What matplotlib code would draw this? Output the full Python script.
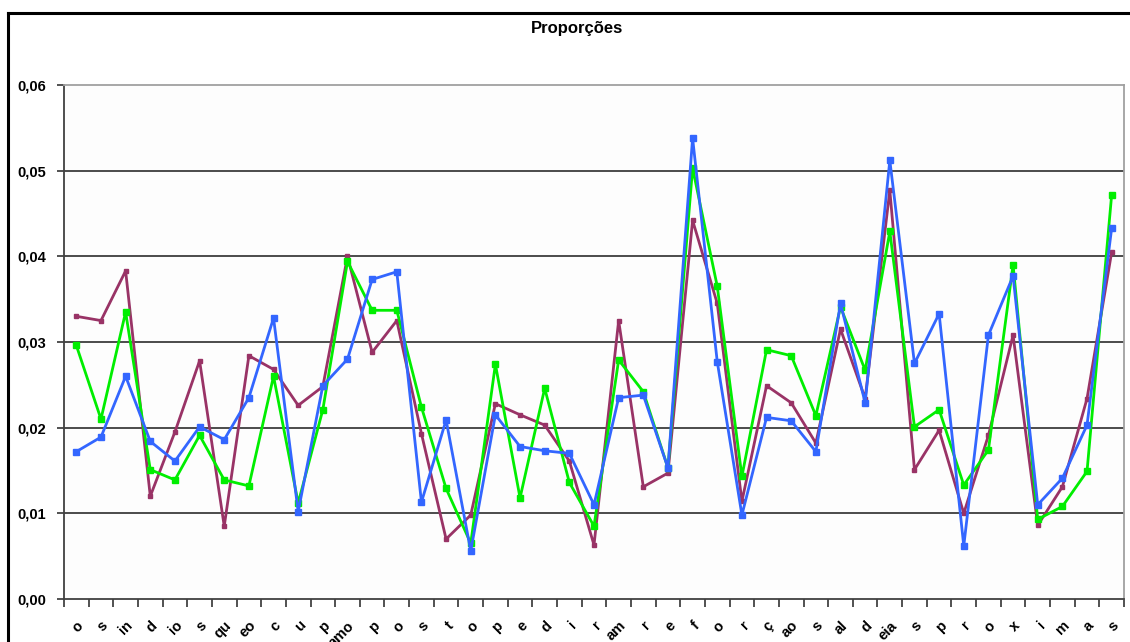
import matplotlib
matplotlib.use("Agg")
import matplotlib.pyplot as plt
from matplotlib.lines import Line2D
import numpy as np

plt.rcParams['font.family'] = ['Liberation Sans', 'DejaVu Sans']

labels = ["o", "s", "in", "d", "io", "s", "qu", "eo", "c", "u", "p", "amo", "p", "o", "s",
          "t", "o", "p", "e", "d", "i", "r", "am", "r", "e", "f", "o", "r", "ç", "ao",
          "s", "al", "d", "eia", "s", "p", "r", "o", "x", "i", "m", "a", "s"]

serie_roxa = [0.0330, 0.0325, 0.0383, 0.0120, 0.0195, 0.0278, 0.0085, 0.0284, 0.0268, 0.0226,
              0.0248, 0.0400, 0.0288, 0.0325, 0.0193, 0.0070, 0.0098, 0.0228, 0.0215, 0.0203,
              0.0161, 0.0063, 0.0325, 0.0131, 0.0147, 0.0442, 0.0345, 0.0114, 0.0249, 0.0229,
              0.0182, 0.0315, 0.0234, 0.0477, 0.0151, 0.0197, 0.0100, 0.0191, 0.0308, 0.0086,
              0.0131, 0.0234, 0.0405]

serie_verde = [0.0296, 0.0210, 0.0335, 0.0151, 0.0139, 0.0191, 0.0139, 0.0132, 0.0260, 0.0112,
               0.0221, 0.0394, 0.0337, 0.0337, 0.0224, 0.0129, 0.0065, 0.0274, 0.0118, 0.0246,
               0.0136, 0.0085, 0.0279, 0.0242, 0.0153, 0.0503, 0.0365, 0.0143, 0.0291, 0.0284,
               0.0214, 0.0341, 0.0267, 0.0429, 0.0201, 0.0221, 0.0133, 0.0174, 0.0390, 0.0093,
               0.0108, 0.0149, 0.0472]

serie_azul = [0.0172, 0.0189, 0.0260, 0.0184, 0.0161, 0.0201, 0.0186, 0.0235, 0.0328, 0.0102,
              0.0249, 0.0280, 0.0373, 0.0382, 0.0113, 0.0209, 0.0056, 0.0215, 0.0178, 0.0173,
              0.0170, 0.0110, 0.0235, 0.0238, 0.0153, 0.0538, 0.0277, 0.0098, 0.0212, 0.0208,
              0.0172, 0.0345, 0.0229, 0.0512, 0.0275, 0.0333, 0.0062, 0.0308, 0.0377, 0.0110,
              0.0141, 0.0203, 0.0433]

yticks = [0.00, 0.01, 0.02, 0.03, 0.04, 0.05, 0.06]
ytick_labels = ["0,00", "0,01", "0,02", "0,03", "0,04", "0,05", "0,06"]

fig = plt.figure(figsize=(11.3, 6.42), dpi=100)
fig.patch.set_facecolor('white')

# outer chart frame (top and left visible)
fig.add_artist(Line2D([8/1130, 8/1130], [0, 1 - 13/642], transform=fig.transFigure,
                      color='black', lw=2.2))
fig.add_artist(Line2D([8/1130, 1], [1 - 13/642, 1 - 13/642], transform=fig.transFigure,
                      color='black', lw=2.2))

ax = fig.add_axes([64/1130, 43/642, (1124 - 64)/1130, (599 - 85)/642])
ax.set_facecolor('#fdfdfd')

x = np.arange(len(labels))

for yv in yticks[1:-1]:
    ax.axhline(yv, color='#1a1a1a', lw=1.1, zorder=1)

ax.plot(x, serie_roxa, color='#993366', lw=2.0, marker='s', ms=3.5, zorder=3)
ax.plot(x, serie_verde, color='#00ee00', lw=2.0, marker='s', ms=5, zorder=4)
ax.plot(x, serie_azul, color='#3366ff', lw=2.0, marker='s', ms=5, zorder=5)

ax.set_xlim(-0.5, len(labels) - 0.5)
ax.set_ylim(0, 0.06)

ax.set_yticks(yticks)
ax.set_yticklabels(ytick_labels, fontsize=10.5, fontweight='bold')
ax.tick_params(axis='y', direction='out', length=5, width=1.2, pad=8, colors='#333333',
               labelcolor='black')

ax.set_xticks(np.arange(-0.5, len(labels), 1.0))
ax.set_xticklabels([])
ax.set_xticks(x, minor=True)
ax.set_xticklabels(labels, minor=True, fontsize=10.5, fontweight='bold', rotation=45,
                   ha='right', va='top', rotation_mode='anchor')
ax.tick_params(axis='x', which='major', direction='out', length=6, width=1.2, colors='#333333')
ax.tick_params(axis='x', which='minor', length=0, pad=14, labelcolor='black')

ax.spines['left'].set_color('#404040')
ax.spines['left'].set_linewidth(1.3)
ax.spines['bottom'].set_color('#404040')
ax.spines['bottom'].set_linewidth(1.3)
ax.spines['top'].set_color('#a0a0a0')
ax.spines['top'].set_linewidth(1.3)
ax.spines['right'].set_color('#a0a0a0')
ax.spines['right'].set_linewidth(1.3)

fig.text(577/1130, 1 - 28/642, "Proporções", ha='center', va='center',
         fontsize=12, fontweight='bold')

fig.savefig("out.png", dpi=100)
